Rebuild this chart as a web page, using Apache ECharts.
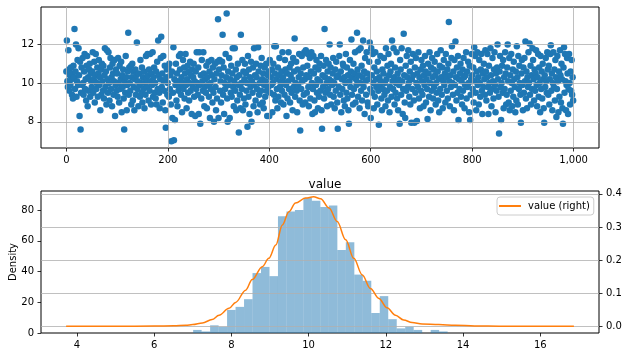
<!DOCTYPE html>
<html><head><meta charset="utf-8">
<script src="https://cdn.jsdelivr.net/npm/echarts@6/dist/echarts.min.js"></script>
<style>html,body{margin:0;padding:0;background:#fff}#c{width:628px;height:357px}</style>
</head><body><div id="c"></div>
<script>
// Top panel: value by index (index = position in the array)
const values = [
10.6,12.2,10.1,9.8,11.7,10.7,9.6,10.4,9.9,10.8,10.2,9.4,10.5,9.2,10.9,10.3,12.8,9.7,10.6,12.0,9.3,10.1,11.2,9.9,11.8,
10.4,8.3,11.1,7.6,9.5,10.8,9.9,11.3,10.0,9.4,10.6,11.5,9.7,10.2,9.1,10.9,11.4,8.8,10.3,9.6,10.7,11.0,9.3,10.5,10.1,
9.8,10.6,11.6,9.5,10.2,11.1,9.0,10.4,11.5,9.7,10.0,10.8,9.3,10.5,11.2,9.9,10.3,8.6,10.7,9.4,11.0,10.1,9.6,10.9,9.2,
10.4,11.8,9.8,10.6,8.9,11.7,10.2,9.5,11.6,10.0,9.1,10.8,11.3,9.7,10.3,8.8,11.0,10.5,9.4,10.1,11.2,8.3,9.9,10.7,9.6,
10.5,9.3,11.3,10.0,9.0,10.9,9.7,10.2,11.1,8.5,10.4,9.8,10.7,9.2,7.6,10.1,9.5,11.4,10.3,8.6,9.9,10.6,12.6,9.4,10.8,
10.0,9.6,10.9,8.9,10.3,11.0,9.1,10.6,9.8,8.6,10.2,10.7,9.4,10.4,12.1,9.7,10.1,8.8,10.5,9.9,9.3,11.2,10.0,9.5,10.8,
9.0,10.3,9.7,10.6,8.7,10.0,9.4,11.4,10.2,9.8,11.5,10.4,9.1,10.7,9.6,11.5,10.1,8.9,10.5,9.9,11.6,9.3,10.3,10.8,9.5,
10.0,9.2,10.6,8.9,11.1,9.7,12.2,10.4,9.5,8.7,10.2,11.3,12.4,9.8,10.5,9.0,11.4,10.1,9.6,10.9,8.6,7.7,10.3,10.7,9.4,
10.0,10.8,9.3,11.0,9.7,10.4,8.9,7.0,10.6,8.2,9.5,11.85,7.05,10.2,8.1,9.9,11.0,9.1,10.5,8.8,10.1,9.6,11.4,9.8,10.7,
11.5,9.4,10.3,8.5,10.0,11.2,9.7,10.8,9.2,10.5,11.5,9.9,8.7,10.2,10.9,9.5,10.6,9.1,10.0,11.1,9.6,10.4,8.4,10.7,9.8,
10.3,11.0,9.3,10.1,8.3,10.6,9.7,11.6,10.0,9.4,10.8,8.4,11.6,9.9,7.9,10.4,9.2,11.2,10.1,9.6,11.6,10.5,8.8,9.8,10.2,
9.5,10.9,8.7,10.3,9.9,11.1,9.3,10.6,8.2,10.0,9.7,11.2,10.4,9.0,10.8,9.5,8.0,10.2,11.0,9.8,8.6,10.5,9.2,11.1,13.3,
8.2,10.7,11.2,9.6,10.1,9.0,10.4,11.1,12.5,9.4,10.8,8.4,10.0,9.7,11.5,10.3,13.6,9.2,8.0,10.6,9.9,11.3,8.2,10.2,9.5,
10.9,9.3,10.5,11.8,9.8,8.8,10.1,11.8,9.6,10.7,8.6,10.3,9.1,11.0,9.9,7.45,10.4,9.4,8.7,12.5,10.0,9.7,11.2,8.6,10.6,
9.2,10.2,11.0,8.9,10.5,9.6,10.0,7.75,11.4,9.3,10.7,8.4,10.3,9.8,11.1,8.0,10.1,9.5,10.8,8.8,11.8,9.9,10.4,9.1,11.0,
10.3,9.7,8.5,11.85,10.6,9.4,10.0,8.9,10.9,9.6,11.3,10.2,9.0,10.5,8.7,9.9,10.8,9.3,10.1,11.0,9.6,8.3,10.4,9.8,10.6,
8.3,11.2,9.5,10.3,9.9,10.7,8.5,10.0,11.0,9.4,11.9,10.5,9.1,11.9,10.2,9.7,8.7,10.8,9.3,10.4,11.3,9.8,10.1,9.0,10.6,
9.6,11.6,10.3,8.9,10.0,9.4,11.2,10.7,9.9,8.3,10.5,9.2,10.1,11.6,9.7,10.8,9.0,10.4,11.0,9.5,10.2,8.6,11.3,9.8,10.6,
12.3,9.3,10.0,11.1,9.6,8.5,10.7,9.9,10.3,11.5,9.1,7.55,10.5,9.7,11.4,10.1,8.9,10.8,9.4,11.6,10.2,9.0,11.7,10.4,9.5,
10.9,11.5,9.8,8.8,10.3,11.3,9.2,10.6,11.6,10.0,8.4,9.7,11.4,10.5,9.1,8.5,10.8,9.9,11.2,9.5,10.2,8.7,10.7,9.3,11.0,
10.1,9.6,11.4,8.6,7.65,10.4,9.8,10.9,9.2,12.8,10.3,9.5,11.2,10.0,8.8,10.6,9.7,11.0,10.2,12.0,9.4,10.8,8.9,10.1,9.9,
10.5,11.3,9.3,10.0,8.7,10.7,9.6,11.1,10.3,9.0,7.65,10.4,9.8,11.4,12.0,9.4,10.6,8.5,10.2,9.7,11.0,10.9,9.1,10.3,8.8,
10.0,11.5,9.5,10.8,9.2,10.4,8.6,7.9,10.1,11.2,9.8,10.6,12.25,9.4,10.3,8.9,11.0,9.7,10.5,11.6,9.0,10.2,9.9,12.6,10.7,
9.3,11.7,10.4,8.7,10.0,11.8,9.6,10.9,9.1,10.3,12.2,9.8,10.6,8.4,11.3,10.1,9.4,11.6,10.5,9.0,8.8,10.2,11.1,12.1,9.7,
8.2,11.8,10.4,9.5,11.5,10.0,8.7,10.8,9.3,11.6,10.2,9.8,10.6,8.9,11.1,9.6,7.85,10.3,9.9,11.4,10.1,9.2,8.6,10.7,9.7,
10.5,11.3,9.4,10.0,8.8,11.8,10.2,9.6,10.9,9.1,11.5,10.4,8.5,9.8,10.6,11.0,9.3,12.2,10.1,9.7,11.8,10.3,8.9,10.8,9.5,
10.0,11.6,9.2,10.5,8.6,10.2,9.9,7.9,11.2,10.7,9.4,11.8,10.1,8.4,9.7,12.55,10.4,9.0,8.2,10.9,9.6,11.4,10.3,9.8,11.7,
10.0,9.3,10.6,8.9,11.1,7.95,10.2,9.7,11.5,10.4,9.1,7.95,10.8,9.5,11.3,10.0,8.05,10.5,9.8,11.6,9.2,10.3,8.7,10.7,9.6,
11.2,10.1,9.4,10.9,8.8,10.4,9.9,11.4,10.6,9.0,10.2,9.7,8.15,11.0,10.5,9.3,11.6,10.0,8.6,10.8,9.6,11.3,10.3,9.2,10.7,
9.8,11.1,10.4,8.9,10.0,9.5,11.5,10.6,9.1,10.2,8.5,10.9,9.7,11.7,10.3,9.4,10.8,8.7,10.1,11.2,9.9,10.5,9.0,11.5,10.3,
9.6,10.7,9.2,11.0,13.15,10.1,8.8,10.4,9.8,11.3,11.9,10.0,9.4,10.6,8.6,11.2,9.9,12.15,10.3,9.1,10.8,9.5,11.4,8.1,10.2,
9.7,10.5,11.0,9.3,10.1,8.9,10.7,9.6,11.3,10.3,8.7,9.9,10.4,11.6,9.2,10.6,9.8,11.1,10.0,8.5,10.9,8.1,9.4,10.2,11.5,
10.4,9.7,10.8,9.0,11.85,10.1,11.4,9.5,8.6,10.6,11.6,9.9,10.3,8.9,11.2,10.0,9.3,10.7,11.5,9.6,8.4,10.5,9.8,11.0,10.2,
9.4,11.7,10.6,9.1,10.3,11.5,9.8,8.4,10.9,10.0,9.5,11.8,10.4,8.8,9.7,11.3,10.1,9.2,10.7,11.6,9.9,8.5,10.5,9.6,10.8,
12.0,10.2,9.3,7.4,10.6,11.4,9.8,8.1,10.0,10.9,9.5,11.2,8.7,10.3,9.7,11.6,10.5,8.9,9.4,10.8,12.0,10.1,9.0,11.3,8.6,
10.4,9.6,11.5,10.0,8.8,10.7,9.3,11.1,10.2,9.8,8.5,10.6,9.1,11.9,10.3,8.9,11.4,9.7,10.9,10.0,9.4,7.95,10.5,11.2,9.9,
8.6,10.8,9.5,11.3,10.1,12.15,9.2,10.6,8.7,10.3,9.8,11.6,10.0,12.05,9.4,10.9,8.9,10.4,9.7,11.8,11.2,10.2,9.1,10.7,9.6,
10.5,11.7,9.9,8.8,10.3,11.5,9.3,10.8,10.0,8.5,11.4,9.7,10.6,9.2,11.0,10.2,8.7,7.95,10.4,9.8,11.3,10.1,9.5,11.6,10.7,
9.4,10.9,8.9,10.2,11.5,11.95,9.6,10.5,8.6,10.0,11.6,9.8,10.7,9.1,11.2,10.3,8.25,9.7,11.4,10.1,8.5,10.6,9.3,11.7,10.4,
9.0,11.0,10.2,8.7,7.9,10.8,11.85,9.5,11.5,10.1,8.6,9.9,11.3,10.5,8.4,9.7,11.5,10.0,8.9,10.6,9.6,11.2,9.4,10.3,9.1
];
const scatterXTicks = [0, 200, 400, 600, 800, 1000];
const scatterYTicks = [8, 10, 12];

// Bottom panel: histogram (30 bins) and density curve
const histMin = 7.01, histMax = 13.6;
const histCounts = [2,1,5,4,15,17,22,39,43,37,76,79,80,88,86,82,83,54,59,38,34,13,24,9,3,4,2,0,2,1];
const kdeX = [3.72,5.0,6.0,6.5,6.82,7.0,7.25,7.5,7.68,7.94,8.11,8.37,8.54,8.8,8.97,9.15,9.32,9.49,9.66,9.92,10.13,10.31,10.53,10.74,10.96,11.17,11.39,11.6,11.82,12.03,12.25,12.46,12.68,12.94,13.37,13.8,14.3,15.0,16.0,16.87];
const kdeY = [0,0,0.0005,0.0015,0.003,0.005,0.01,0.02,0.033,0.054,0.072,0.109,0.141,0.18,0.205,0.245,0.306,0.346,0.372,0.387,0.391,0.385,0.357,0.316,0.261,0.205,0.155,0.114,0.084,0.056,0.033,0.019,0.011,0.007,0.005,0.003,0.001,0,0,0];
const histXTicks = [4, 6, 8, 10, 12, 14, 16];
const countTicks = [0, 20, 40, 60, 80];
const densityTicks = [0, 0.1, 0.2, 0.3, 0.4];

const FONT = 'DejaVu Sans';
const noLine = {show: false, onZero: false};
const gridLine = {show: true, lineStyle: {color: '#b0b0b0', width: 0.8}};
function tick(vals) { return {show: true, length: 3.5, inside: false, customValues: vals, lineStyle: {color: '#000', width: 0.8}}; }
function lab(vals, fmt) { const o = {customValues: vals, color: '#000', fontSize: 10, fontFamily: FONT, margin: 7}; if (fmt) o.formatter = fmt; return o; }

const binW = (histMax - histMin) / histCounts.length;
const histData = histCounts.map((c, i) => [histMin + i * binW, histMin + (i + 1) * binW, c]);

const chart = echarts.init(document.getElementById('c'), null, {renderer: 'canvas'});
chart.setOption({
  animation: false,
  backgroundColor: '#fff',
  title: {text: 'value', left: 320, top: 174, textAlign: 'center', textStyle: {fontFamily: FONT, fontSize: 12, fontWeight: 'normal', color: '#000'}},
  legend: {data: ['value (right)'], left: 497, top: 197, orient: 'vertical', icon: 'rect', itemWidth: 22, itemHeight: 2,
    padding: [4, 4, 4, 2], borderColor: '#cccccc', borderWidth: 1, borderRadius: 3, backgroundColor: '#fff',
    textStyle: {fontFamily: FONT, fontSize: 10, color: '#000', padding: [0, 0, 0, 2]}},
  grid: [
    {left: 41, right: 29, top: 7, height: 141, outerBoundsMode: 'none', containLabel: false, show: true, borderColor: '#000', borderWidth: 1, backgroundColor: 'transparent'},
    {left: 41, right: 29, top: 191, height: 142, outerBoundsMode: 'none', containLabel: false, show: true, borderColor: '#000', borderWidth: 1, backgroundColor: 'transparent'}
  ],
  xAxis: [
    {type: 'value', gridIndex: 0, min: -50, max: 1050, z: 3, axisLine: noLine, axisTick: tick(scatterXTicks), axisLabel: lab(scatterXTicks), splitLine: gridLine},
    {type: 'value', gridIndex: 1, min: 3.07, max: 17.52, axisLine: noLine, axisTick: tick(histXTicks), axisLabel: lab(histXTicks), splitLine: {show: false}}
  ],
  yAxis: [
    {type: 'value', gridIndex: 0, min: 6.65, max: 13.93, z: 3, axisLine: noLine, axisTick: tick(scatterYTicks), axisLabel: lab(scatterYTicks), splitLine: gridLine},
    {type: 'value', gridIndex: 1, min: 0, max: 92.4, axisLine: noLine, axisTick: tick(countTicks), axisLabel: lab(countTicks), splitLine: {show: false},
      name: 'Density', nameLocation: 'middle', nameGap: 23, nameMoveOverlap: false, nameTextStyle: {fontFamily: FONT, fontSize: 10, color: '#000'}},
    {type: 'value', gridIndex: 1, position: 'right', min: -0.0205, max: 0.4085, z: 3, axisLine: noLine, axisTick: tick(densityTicks),
      axisLabel: lab(densityTicks, v => v.toFixed(1)), splitLine: gridLine}
  ],
  series: [
    {type: 'scatter', xAxisIndex: 0, yAxisIndex: 0, z: 2, symbolSize: 6.5, itemStyle: {color: '#1f77b4', opacity: 1},
      data: values.map((v, i) => [i, v])},
    {type: 'custom', xAxisIndex: 1, yAxisIndex: 1, z: 2, encode: {x: [0, 1], y: 2}, data: histData,
      renderItem: function (params, api) {
        const p0 = api.coord([api.value(0), 0]);
        const p1 = api.coord([api.value(1), api.value(2)]);
        return {type: 'rect', shape: {x: p0[0], y: p1[1], width: p1[0] - p0[0], height: p0[1] - p1[1]}, style: {fill: 'rgba(31,119,180,0.5)'}};
      }},
    {type: 'line', name: 'value (right)', xAxisIndex: 1, yAxisIndex: 2, z: 5, smooth: 0.35, smoothMonotone: 'x', showSymbol: false, symbol: 'none',
      lineStyle: {color: '#ff7f0e', width: 1.5}, itemStyle: {color: '#ff7f0e'},
      data: kdeX.map((x, i) => [x, kdeY[i]])}
  ]
});
</script></body></html>
